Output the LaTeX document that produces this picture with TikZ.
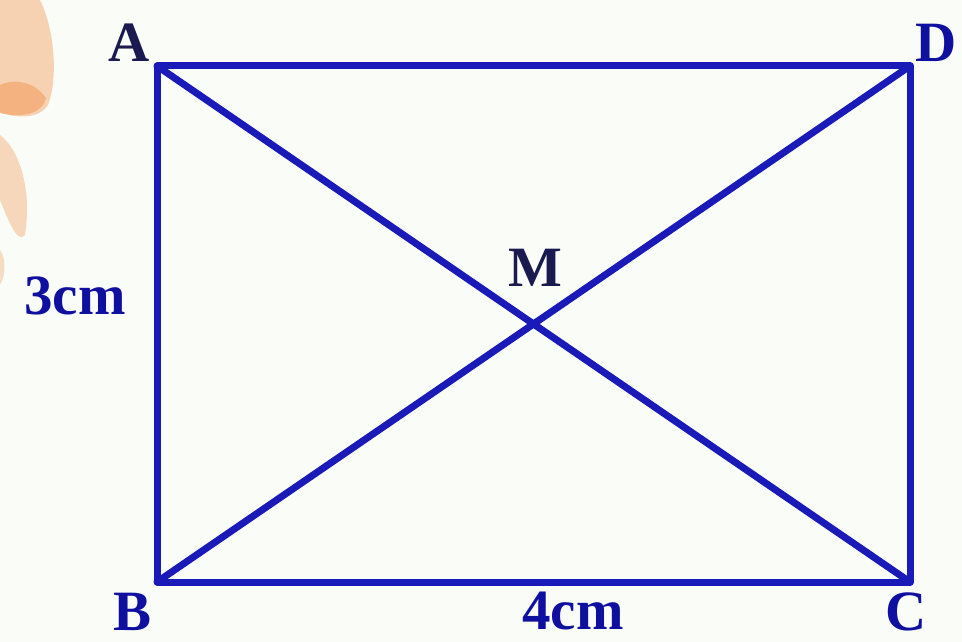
\documentclass[tikz,border=0pt]{standalone}
\usepackage{fontspec}
\setmainfont{Liberation Serif}
\definecolor{lineblue}{HTML}{1A1AB8}
\definecolor{lblblue}{HTML}{1010A0}
\definecolor{lbldark}{HTML}{1A1A50}
\definecolor{bg}{HTML}{FAFCF7}
\definecolor{peach}{HTML}{F6C8A2}
\definecolor{peachdark}{HTML}{F2A56A}
\begin{document}
\begin{tikzpicture}[x=1pt,y=-1pt,
  edge/.style={draw=lineblue,line width=7pt,line cap=round,line join=round},
  lbl/.style={font=\fontsize{57}{57}\selectfont\bfseries,text=lblblue,inner sep=0pt},
  lbldk/.style={lbl,text=lbldark}]
\fill[bg] (0,0) rectangle (962,642);
\useasboundingbox (0,0) rectangle (962,642);
% decorative blobs at left
\fill[peach,opacity=0.8] (0,0) -- (40,0) .. controls (55,30) and (58,80) .. (48,105) .. controls (38,120) and (15,118) .. (0,112) -- cycle;
\fill[peachdark,opacity=0.7] (0,85) .. controls (15,78) and (35,82) .. (46,98) .. controls (42,115) and (20,118) .. (0,113) -- cycle;
\fill[peach,opacity=0.7] (0,135) .. controls (20,150) and (32,190) .. (25,235) .. controls (18,245) and (8,220) .. (0,200) -- cycle;
\fill[peach,opacity=0.6] (0,250) .. controls (6,258) and (6,275) .. (0,285) -- cycle;
% vertices
\coordinate (A) at (157,66);
\coordinate (D) at (910,66);
\coordinate (B) at (157,582);
\coordinate (C) at (910,582);
\draw[edge] (A) -- (D) -- (C) -- (B) -- cycle;
\draw[edge] (A) -- (C);
\draw[edge] (B) -- (D);
% labels
\node[lbldk] (la) at (129,43) {A};
\node[lbl] (ld) at (936,43) {D};
\node[lbl] (lb) at (133,612) {B};
\node[lbl] (lc) at (906,612) {C};
\node[lbldk] (lm) at (535,268) {M};
\node[lbl] (l3) at (75,296) {3cm};
\node[lbl] (l4) at (573,611) {4cm};
\end{tikzpicture}
\end{document}
